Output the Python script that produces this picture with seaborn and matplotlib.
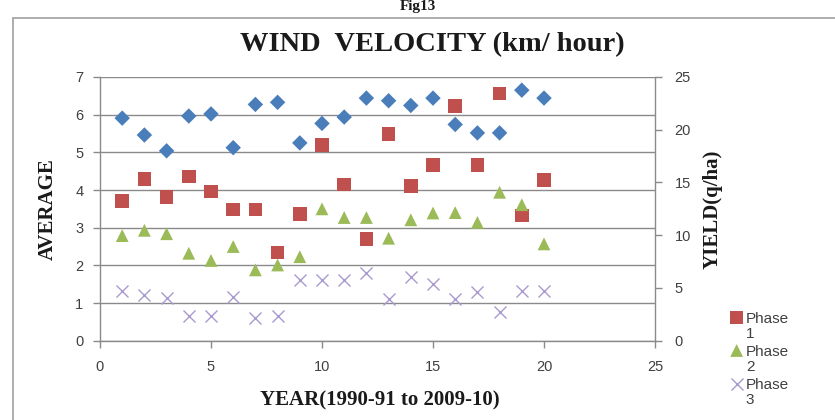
import matplotlib
matplotlib.use("Agg")
import matplotlib.pyplot as plt
import seaborn as sns
import pandas as pd
from matplotlib.patches import Rectangle
from matplotlib.collections import PathCollection
from matplotlib.legend_handler import HandlerPathCollection

years = list(range(1, 21))
yield_q_ha = [21.1, 19.5, 18.0, 21.3, 21.5, 18.3, 22.4, 22.6, 18.75, 20.6,
              21.2, 23.0, 22.75, 22.3, 23.0, 20.5, 19.7, 19.7, 23.75, 23.0]
phase1 = [3.71, 4.29, 3.82, 4.36, 3.96, 3.48, 3.48, 2.34, 3.36, 5.20,
          4.15, 2.70, 5.48, 4.10, 4.67, 6.23, 4.67, 6.56, 3.32, 4.27]
phase2 = [2.79, 2.93, 2.84, 2.32, 2.13, 2.50, 1.88, 2.01, 2.23, 3.50,
          3.27, 3.27, 2.72, 3.21, 3.39, 3.40, 3.14, 3.94, 3.61, 2.57]
phase3 = [1.33, 1.22, 1.13, 0.66, 0.66, 1.17, 0.60, 0.66, 1.60, 1.60,
          1.60, 1.79, 1.10, 1.69, 1.50, 1.10, 1.29, 0.76, 1.33, 1.33]
legend_labels = ["Phase\n1", "Phase\n2", "Phase\n3"]
x_ticks = [0, 5, 10, 15, 20, 25]
left_ticks = [0, 1, 2, 3, 4, 5, 6, 7]
right_ticks = [0, 5, 10, 15, 20, 25]

sns.set_style("white")
plt.rcParams['font.family'] = ['Liberation Sans', 'DejaVu Sans']

W, H = 835, 420
fig = plt.figure(figsize=(W / 100, H / 100), dpi=100)
ax = fig.add_axes([100 / W, (H - 340.7) / H, 555 / W, 263.7 / H])
ax2 = ax.twinx()

df = pd.DataFrame({"year": years, "p1": phase1, "p2": phase2, "p3": phase3,
                   "yield": yield_q_ha})

grey = "#8a8a8a"
tick_col = "#404040"

sns.scatterplot(data=df, x="year", y="yield", ax=ax2, marker="D", s=62,
                color="#4A7EBB", edgecolor="none", zorder=3)
sns.scatterplot(data=df, x="year", y="p1", ax=ax, marker="s", s=95,
                color="#C0504D", edgecolor="none", zorder=3, label=legend_labels[0])
sns.scatterplot(data=df, x="year", y="p2", ax=ax, marker="^", s=85,
                color="#9BBB59", edgecolor="none", zorder=3, label=legend_labels[1])
sns.scatterplot(data=df, x="year", y="p3", ax=ax, marker="x", s=75,
                color="#A99AD0", linewidth=1.0, zorder=3, label=legend_labels[2])

ax.set_xlim(0, 25)
ax.set_ylim(0, 7)
ax2.set_ylim(0, 25)
ax.set_xticks(x_ticks)
ax.set_yticks(left_ticks)
ax2.set_yticks(right_ticks)
ax.grid(axis="y", color=grey, linewidth=1.0)
ax.grid(axis="x", visible=False)
ax2.grid(False)
ax.set_axisbelow(True)

for a in (ax, ax2):
    a.spines["top"].set_visible(False)
    for sp in a.spines.values():
        sp.set_color(grey)
        sp.set_linewidth(1.0)
ax.spines["right"].set_visible(False)
ax2.spines["left"].set_visible(False)
ax2.spines["bottom"].set_visible(False)

ax.tick_params(axis="both", direction="out", length=5, width=1, color=grey,
               labelsize=10.5, labelcolor=tick_col, pad=7, left=True, bottom=True)
ax.tick_params(axis="x", pad=9)
ax2.tick_params(axis="y", direction="out", length=5, width=1, color=grey,
                labelsize=10.5, labelcolor=tick_col, pad=9, right=True)

serif = ['Liberation Serif', 'DejaVu Serif']
lab_col = "#1a1a1a"
ax.set_xlabel("YEAR(1990-91 to 2009-10)", fontsize=15, fontweight="bold",
              family=serif, color=lab_col)
ax.xaxis.set_label_coords((380 - 100) / 555, -(400 - 340.7) / 263.7)
ax.xaxis.label.set_va("center")
ax.set_ylabel("AVERAGE", fontsize=15, fontweight="bold", family=serif,
              color=lab_col)
ax.yaxis.set_label_coords(-(100 - 48) / 555, 0.5)
ax.yaxis.label.set_va("center")
ax2.set_ylabel("YIELD(q/ha)", fontsize=15, fontweight="bold", family=serif,
               color=lab_col)
ax2.yaxis.set_label_coords((713 - 100) / 555, 0.5)
ax2.yaxis.label.set_va("center")

fig.text(432 / W, 1 - 45 / H, "WIND  VELOCITY (km/ hour)", ha="center",
         va="center", fontsize=20.5, fontweight="bold", family=serif, color=lab_col)
fig.text(418 / W, 1.0, "Fig13", ha="center", va="top", fontsize=11,
         fontweight="bold", family=serif, color=lab_col)

# chart border
fig.patches.append(Rectangle((13 / W, -0.05), 1.0, (H - 18) / H + 0.05,
                             transform=fig.transFigure, fill=False,
                             edgecolor="#a0a0a0", linewidth=1.2))

ax.get_legend().remove()
handles, labels = ax.get_legend_handles_labels()
leg = fig.legend(handles, labels, loc="upper left",
                 bbox_to_anchor=(729 / W, 1 - 312 / H), frameon=False,
                 fontsize=11, handletextpad=0.1, labelspacing=0.3,
                 handlelength=1.0, borderaxespad=0, borderpad=0,
                 handler_map={PathCollection: HandlerPathCollection(yoffsets=[1.35])})
for t in leg.get_texts():
    t.set_color(tick_col)
    t.set_linespacing(1.05)

fig.savefig("out.png", dpi=100)
